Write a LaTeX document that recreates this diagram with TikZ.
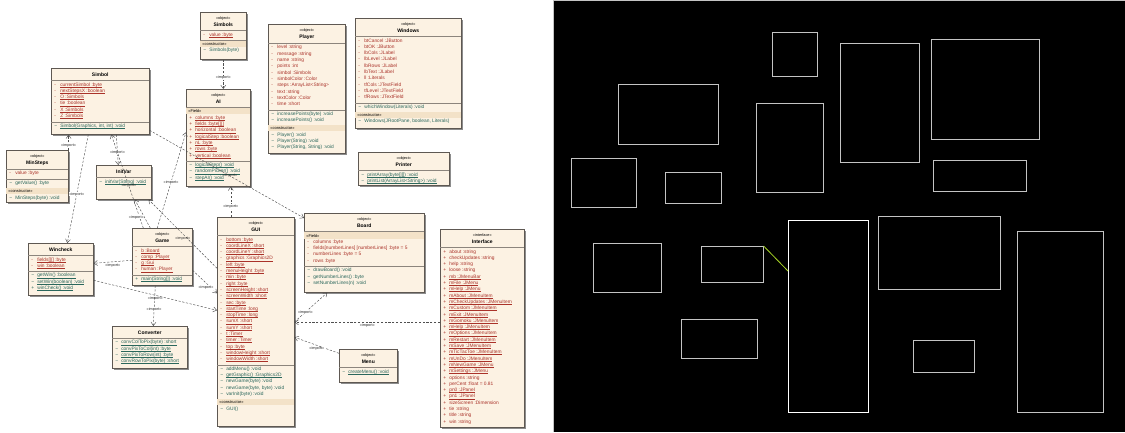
\documentclass[tikz,border=0pt]{standalone}
\usepackage{fontspec}
\setmainfont{Liberation Sans}
\usepackage{xcolor}
\usetikzlibrary{arrows.meta,shadows,positioning}
\definecolor{umlFill}{HTML}{FCF2E3}
\definecolor{umlBand}{HTML}{F3E2C8}
\definecolor{umlEdge}{HTML}{5E5852}
\definecolor{umlLine}{HTML}{8C857D}
\definecolor{umlRed}{HTML}{AA3229}
\definecolor{umlTeal}{HTML}{2A675C}
\definecolor{depGray}{HTML}{505050}
\definecolor{ghostGray}{HTML}{C4C4C4}
\definecolor{hlGreen}{HTML}{A8D626}

% class box helpers
\newcommand\umlfont{\fontsize{4.85}{6.3}\selectfont}
\newcommand\umlstrut{\rule[-1.5pt]{0pt}{6.3pt}}
\newcommand\umlul[1]{\setbox0\hbox{#1}\rlap{\rule[-1pt]{\wd0}{0.35pt}}\box0}
\newcommand\umlrule{\par{\color{umlLine}\hrule height 0.8pt}}
\newcommand\umlsplit{\par\vspace{2.5pt}\umlrule}
\newcommand\umlgap{\par\vspace{2pt}}
\newcommand\umlhead[2]{{\centering\vspace*{4.5pt}{\fontsize{3.8}{4.5}\selectfont #1\par}\vspace{1.2pt}{\fontsize{5}{6}\selectfont\bfseries #2\par}}\vspace{3.6pt}\umlrule}
\newcommand\umlname[1]{{\centering\vspace*{5pt}{\fontsize{5}{6}\selectfont\bfseries #1\par}}\vspace{3.5pt}\umlrule}
\newcommand\umlband[1]{\noindent{\fboxsep=0pt\colorbox{umlBand}{\makebox[\linewidth][l]{\umlstrut\hspace*{2pt}\fontsize{4}{6.3}\selectfont #1}}}\par}
\newcommand\umlline[3]{\noindent\mbox{\umlstrut\hspace*{3pt}\makebox[6pt][l]{\textcolor{#1}{#2}}\textcolor{#1}{#3}}\par}
\newcommand\fld[2][-]{\umlline{umlRed}{#1}{#2}}
\newcommand\ufld[2][-]{\umlline{umlRed}{#1}{\umlul{#2}}}
\newcommand\mth[2][\textasciitilde]{\umlline{umlTeal}{#1}{#2}}
\newcommand\umth[2][\textasciitilde]{\umlline{umlTeal}{#1}{\umlul{#2}}}
\newcommand\umlbox[3]{\parbox[t][#2pt][t]{#1pt}{\umlfont\raggedright #3}}

\begin{document}
\begin{tikzpicture}[
    x=1pt, y=-1pt,
    cls/.style={anchor=north west, inner sep=0pt, draw=umlEdge, fill=umlFill, line width=0.6pt,
      drop shadow={shadow xshift=1.3pt, shadow yshift=-1.3pt, fill=black!45, opacity=1}},
    dep/.style={draw=depGray, line width=0.45pt, dash pattern=on 2.2pt off 1.6pt, -{Straight Barb[length=3.5pt,width=5pt]}},
    lbl/.style={font=\fontsize{3.8}{4}\selectfont, inner sep=0.5pt, text=black!85},
    ghost/.style={anchor=north west, inner sep=0pt, draw=ghostGray, line width=0.6pt},
    hl/.style={draw=hlGreen, line width=0.8pt}
  ]
  \useasboundingbox (0,0) rectangle (1125,432);
  \fill[white] (0,0) rectangle (553,432);

  % class diagram
  \node[cls] (simbols) at (200,12) {\umlbox{46}{47}{\umlhead{«object»}{Simbols}
    \ufld{value :byte}
    \umlsplit
    \umlband{«constructor»}
    \mth{Simbols(byte)}}};
  \node[cls] (simbol) at (51,68) {\umlbox{98}{66}{\umlname{Simbol}
    \ufld{currentSimbol :byte}
    \ufld{nextStepsX :boolean}
    \ufld{O :Simbols}
    \ufld{tie :boolean}
    \ufld{X :Simbols}
    \ufld{Z :Simbols}
    \umlsplit
    \umth{Simbol(Graphics, int, int) :void}}};
  \node[cls] (ai) at (186,89) {\umlbox{64}{97}{\umlhead{«object»}{AI}
    \umlband{«Field»}
    \ufld[+]{columns :byte}
    \ufld[+]{fields :byte[][]}
    \ufld[+]{horizontal :boolean}
    \ufld[+]{logicalStep :boolean}
    \ufld[+]{nL :byte}
    \ufld[+]{rows :byte}
    \ufld[+]{vertical :boolean}
    \umlsplit
    \umth{logicalStep() :void}
    \umth{randomPicker() :void}
    \umth{stepAI() :void}}};
  \node[cls] (player) at (268,24) {\umlbox{77}{129}{\umlhead{«object»}{Player}
    \fld{level :string}
    \fld{message :string}
    \fld{name :string}
    \fld{points :int}
    \fld{simbol :Simbols}
    \fld{simbolColor :Color}
    \fld{steps :ArrayList<String>}
    \fld{text :string}
    \fld{textColor :Color}
    \fld{time :short}
    \umlsplit
    \mth{increasePoints(byte) :void}
    \mth{increasePoints() :void}
    \umlgap
    \umlband{«constructor»}
    \mth{Player() :void}
    \mth{Player(String) :void}
    \mth{Player(String, String) :void}}};
  \node[cls] (windows) at (355,18) {\umlbox{106}{110}{\umlhead{«object»}{Windows}
    \fld{btCancel :JButton}
    \fld{btOK :JButton}
    \fld{lbCols :JLabel}
    \fld{lbLevel :JLabel}
    \fld{lbRows :JLabel}
    \fld{lbText :JLabel}
    \fld{ll :Literals}
    \fld{tfCols :JTextField}
    \fld{tfLevel :JTextField}
    \fld{tfRows :JTextField}
    \umlsplit
    \mth{whichWindow(Literals) :void}
    \umlgap
    \umlband{«constructor»}
    \mth{Windows(JRootPane, boolean, Literals)}}};
  \node[cls] (minsteps) at (6,150) {\umlbox{62}{52}{\umlhead{«object»}{MinSteps}
    \fld{value :byte}
    \umlsplit
    \mth{getValue() :byte}
    \umlgap
    \umlband{«constructor»}
    \mth{MinSteps(byte) :void}}};
  \node[cls] (initvar) at (96,165) {\umlbox{55}{34}{\umlname{InitVar}
    \umth{initVar(String) :void}}};
  \node[cls] (printer) at (358,152) {\umlbox{91}{33}{\umlhead{«object»}{Printer}
    \umth{printArray(byte[][]) :void}
    \umth{printList(ArrayList<String>) :void}}};
  \node[cls] (wincheck) at (28,243) {\umlbox{65}{52}{\umlname{Wincheck}
    \ufld{fields[][] :byte}
    \ufld{win :boolean}
    \umlsplit
    \umth{getWin() :boolean}
    \umth{setWin(boolean) :void}
    \umth[+]{winCheck() :void}}};
  \node[cls] (game) at (132,228) {\umlbox{60}{57}{\umlhead{«object»}{Game}
    \ufld{b :Board}
    \ufld{comp :Player}
    \ufld{g :Gui}
    \ufld{human :Player}
    \umlsplit
    \umth[+]{main(String[]) :void}}};
  \node[cls] (gui) at (217,217) {\umlbox{77}{209}{\umlhead{«object»}{GUI}
    \ufld{bottom :byte}
    \ufld{coordLineX :short}
    \ufld{coordLineY :short}
    \ufld{graphics :Graphics2D}
    \ufld{left :byte}
    \ufld{menuHeight :byte}
    \ufld{min :byte}
    \ufld{right :byte}
    \ufld{screenHeight :short}
    \ufld{screenWidth :short}
    \ufld{sec :byte}
    \ufld{startTime :long}
    \ufld{stopTime :long}
    \ufld{sumX :short}
    \ufld{sumY :short}
    \ufld{t :Timer}
    \ufld{timer :Timer}
    \ufld{top :byte}
    \ufld{windowHeight :short}
    \ufld{windowWidth :short}
    \umlsplit
    \mth{addMenu() :void}
    \umth{getGraphic() :Graphics2D}
    \mth{newGame(byte) :void}
    \mth{newGame(byte, byte) :void}
    \mth{varInit(byte) :void}
    \umlgap
    \umlband{«constructor»}
    \mth{GUI()}}};
  \node[cls] (board) at (304,213) {\umlbox{120}{79}{\umlhead{«object»}{Board}
    \umlband{«Field»}
    \fld{columns :byte}
    \fld{fields[numberLines] [numberLines] :byte = 5}
    \fld{numberLines :byte = 5}
    \fld{rows :byte}
    \umlsplit
    \mth{drawBoard() :void}
    \mth{getNumberLines() :byte}
    \mth{setNumberLines(n) :void}}};
  \node[cls] (interface) at (440,229) {\umlbox{84}{198}{\umlhead{«interface»}{Interface}
    \fld[+]{about :string}
    \fld[+]{checkUpdates :string}
    \fld[+]{help :string}
    \fld[+]{loose :string}
    \ufld[+]{mb :JMenuBar}
    \ufld[+]{mFile :JMenu}
    \ufld[+]{mHelp :JMenu}
    \ufld[+]{mAbout :JMenuItem}
    \ufld[+]{mCheckUpdates :JMenuItem}
    \ufld[+]{mCustom :JMenuItem}
    \ufld[+]{mExit :JMenuItem}
    \ufld[+]{mGomoku :JMenuItem}
    \ufld[+]{mHelp :JMenuItem}
    \ufld[+]{mOptions :JMenuItem}
    \ufld[+]{mRestart :JMenuItem}
    \ufld[+]{mSave :JMenuItem}
    \ufld[+]{mTicTacToe :JMenuItem}
    \ufld[+]{mUnDo :JMenuItem}
    \ufld[+]{mNewGame :JMenu}
    \ufld[+]{mSettings :JMenu}
    \fld[+]{options :string}
    \fld[+]{perCent :float = 0.81}
    \ufld[+]{pn0 :JPanel}
    \ufld[+]{pn1 :JPanel}
    \fld[+]{sizeScreen :Dimension}
    \fld[+]{tie :string}
    \fld[+]{title :string}
    \fld[+]{win :string}}};
  \node[cls] (converter) at (112,326) {\umlbox{75}{42}{\umlname{Converter}
    \umth{convColToPix(byte) :short}
    \umth{convPixToCol(int) :byte}
    \umth{convPixToRow(int) :byte}
    \umth{convRowToPix(byte) :short}}};
  \node[cls] (menu) at (339,349) {\umlbox{58}{33}{\umlhead{«object»}{Menu}
    \umth{createMenu() :void}}};

  % import dependencies
  \draw[dep] (simbols.south) -- (simbols.south |- ai.north) node[lbl, pos=.62, fill=white] {«import»};
  \draw[dep] (minsteps.north east) -- (minsteps.north east |- simbol.south) node[lbl, pos=.3, fill=white] {«import»};
  \draw[dep] ([xshift=-12pt]simbol.south) -- ([xshift=6.5pt]wincheck.north) node[lbl, pos=.55, fill=white] {«import»};
  \draw[dep] ([xshift=16pt]simbol.south) -- ([xshift=-5.5pt]initvar.north) node[lbl, pos=.6, fill=white] {«import»};
  \draw[dep] ([xshift=-19pt]game.north) -- ([xshift=11pt]simbol.south) node[lbl, pos=.45] {«import»};
  \draw[dep] ([xshift=-12pt]game.north) -- ([xshift=11pt]initvar.south) node[lbl, pos=.38, anchor=east, fill=white] {«import»};
  \draw[dep] ([xshift=-5pt]game.north) -- ([yshift=5.5pt]ai.west) node[lbl, pos=.48, fill=white] {«import»};
  \draw[dep] ([yshift=53.5pt]gui.west) -- ([xshift=-3pt]initvar.south east) node[lbl, pos=.5, below=2pt] {«import»};
  \draw[dep] ([yshift=-13.5pt]game.east) -- ([yshift=28.5pt]gui.west) node[lbl, pos=.55, below=2pt, fill=white] {«import»};
  \draw[dep] ([yshift=-3.5pt]game.west) -- ([yshift=6pt]wincheck.east) node[lbl, midway, below=1pt, fill=white] {«import»};
  \draw[dep] ([yshift=-11pt]wincheck.east) -- ([yshift=11.5pt]gui.west) node[lbl, pos=.5, below=1pt, fill=white] {«import»};
  \draw[dep] ([xshift=-7pt]game.south) -- ([xshift=3.5pt]converter.north) node[lbl, pos=.6, fill=white] {«import»};
  \draw[dep] ([xshift=-25pt]gui.north) -- ([xshift=-25pt]gui.north |- ai.south) node[lbl, pos=.35, fill=white] {«import»};
  \draw[dep] ([yshift=-29pt]simbol.east) -- ([yshift=-5pt]board.north west) node[lbl, pos=.52] {«import»};
  \draw[dep] ([yshift=6pt]interface.west) -- ([yshift=6pt]interface.west -| gui.east) node[lbl, midway, below=1pt, fill=white] {«import»};
  \draw[dep] (gui.east) -- ([xshift=-37pt]board.south) node[lbl, pos=.33, fill=white] {«import»};
  \draw[dep] ([yshift=12.5pt]menu.west) -- ([yshift=-15.5pt]gui.east) node[lbl, pos=.5, below=1pt, fill=white] {«import»};

  % outline view
  \fill[black] (553,0) rectangle (1125,432);
  \draw[ghostGray, line width=0.6pt] (553.5,432) -- (553.5,0.4) -- (1125,0.4);
  \node[ghost, minimum width=45pt, minimum height=44pt] (rsimbols) at (772,32) {};
  \node[ghost, minimum width=100pt, minimum height=60pt] (rsimbol) at (618,84) {};
  \node[ghost, minimum width=79pt, minimum height=119pt] (rplayer) at (840,43) {};
  \node[ghost, minimum width=108pt, minimum height=100pt] (rwindows) at (931,39) {};
  \node[ghost, minimum width=65pt, minimum height=49pt] (rminsteps) at (571,158) {};
  \node[ghost, minimum width=56pt, minimum height=31pt] (rinitvar) at (665,172) {};
  \node[ghost, minimum width=67pt, minimum height=89pt] (rai) at (756,103) {};
  \node[ghost, minimum width=93pt, minimum height=31pt] (rprinter) at (933,160) {};
  \node[ghost, minimum width=68pt, minimum height=49pt] (rwincheck) at (593,243) {};
  \node[ghost, minimum width=62pt, minimum height=36pt] (rgame) at (701,246) {};
  \node[ghost, draw=white, minimum width=80pt, minimum height=192pt] (rgui) at (788,220) {};
  \node[ghost, minimum width=122pt, minimum height=73pt] (rboard) at (878,216) {};
  \node[ghost, minimum width=86pt, minimum height=181pt] (rinterface) at (1017,231) {};
  \node[ghost, minimum width=76pt, minimum height=39pt] (rconverter) at (681,319) {};
  \node[ghost, minimum width=61pt, minimum height=32pt] (rmenu) at (913,340) {};
  \draw[hl] (rgame.north east) -- ([yshift=-51pt]rgui.north west);
\end{tikzpicture}
\end{document}
